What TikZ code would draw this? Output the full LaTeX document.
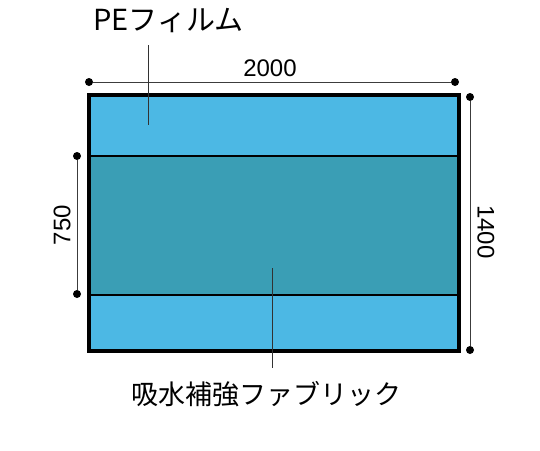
\documentclass[tikz,border=0pt]{standalone}
\usepackage{fontspec}
\setmainfont{Liberation Sans}
\newfontfamily\jpfont{Noto Sans CJK JP}
\definecolor{filmblue}{RGB}{76,184,228}
\definecolor{fabricteal}{RGB}{58,158,181}
\tikzset{every picture/.style={line width=0.75pt},
  dimdot/.style={circle,fill=black,inner sep=0pt,minimum size=8pt},
  dimline/.style={draw={rgb,255:red,60;green,60;blue,60},line width=0.9pt},
  leader/.style={draw={rgb,255:red,50;green,50;blue,50},line width=0.9pt},
  label/.style={font=\fontsize{24}{26}\selectfont,inner sep=0pt},
  jplabel/.style={font=\fontsize{27}{29}\selectfont\jpfont,inner sep=0pt}}

\begin{document}
\begin{tikzpicture}[x=1pt,y=1pt,yscale=-1,xscale=1]
	\useasboundingbox (0,0) rectangle (540,450);

	%Shape: Rectangle [id:film top]
	\fill [filmblue] (89,95) rectangle (459,156) ;
	%Shape: Rectangle [id:fabric]
	\fill [fabricteal] (89,156) rectangle (459,295) ;
	%Shape: Rectangle [id:film bottom]
	\fill [filmblue] (89,295) rectangle (459,351) ;
	%Straight Lines [id:seams]
	\draw [line width=1.5pt] (89,156) -- (459,156) ;
	\draw [line width=1.5pt] (89,295) -- (459,295) ;
	%Shape: Rectangle [id:outline]
	\draw [line width=3.5pt] (89,95) rectangle (459,351) ;

	%Dimension dots
	\node [dimdot] (wl) at (89,82) {};
	\node [dimdot] (wr) at (455,82) {};
	\node [dimdot] (ht) at (470,97) {};
	\node [dimdot] (hb) at (470,350) {};
	\node [dimdot] (ft) at (77,156) {};
	\node [dimdot] (fb) at (77,294) {};
	%Straight Lines [id:dimensions]
	\draw [dimline] (wl) -- (wr) ;
	\draw [dimline] (ht) -- (hb) ;
	\draw [dimline] (ft) -- (fb) ;

	%Leader lines
	\coordinate (pe tip) at (148,125) ;
	\coordinate (fabric tip) at (272,268) ;

	% Text Node
	\node [jplabel,font=\fontsize{29}{31}\selectfont\jpfont,anchor=west] (pe) at (93,21) {PEフィルム};
	% Text Node
	\node [label] (width) at (270,68) {2000};
	% Text Node
	\node [label,rotate=-90] (height) at (486,232) {1400};
	% Text Node
	\node [label,rotate=90] (fabric width) at (62,225) {750};
	% Text Node
	\node [jplabel] (fabric) at (266,394) {吸水補強ファブリック};

	\draw [leader] (148,45) -- (pe tip) ;
	\draw [leader] (fabric tip) -- (272,368) ;

\end{tikzpicture}
\end{document}
